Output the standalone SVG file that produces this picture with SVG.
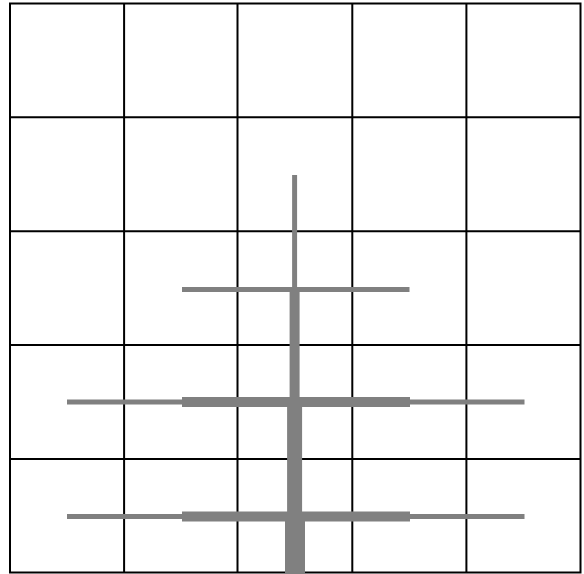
<svg xmlns="http://www.w3.org/2000/svg" width="584" height="574" viewBox="0 0 584 574">
<style>
.g{stroke:#000;stroke-width:2;fill:none}
.t{stroke:#808080;stroke-linecap:butt;fill:none}
</style>
<rect width="584" height="574" fill="#fff"/>
<g id="grid" class="g">
<rect x="10" y="3.5" width="570.5" height="569"/>
<line x1="124.1" y1="3.5" x2="124.1" y2="572.5"/>
<line x1="237.5" y1="3.5" x2="237.5" y2="572.5"/>
<line x1="352.3" y1="3.5" x2="352.3" y2="572.5"/>
<line x1="466.4" y1="3.5" x2="466.4" y2="572.5"/>
<line x1="10" y1="117.3" x2="580.5" y2="117.3"/>
<line x1="10" y1="231.3" x2="580.5" y2="231.3"/>
<line x1="10" y1="345" x2="580.5" y2="345"/>
<line x1="10" y1="459" x2="580.5" y2="459"/>
</g>
<g id="tree" class="t">
<line x1="294.6" y1="175" x2="294.6" y2="289.5" stroke-width="5"/>
<line x1="182" y1="289.5" x2="409.5" y2="289.5" stroke-width="5"/>
<line x1="294.6" y1="289.5" x2="294.6" y2="402" stroke-width="10"/>
<line x1="67" y1="402" x2="524.5" y2="402" stroke-width="5"/>
<line x1="182" y1="402" x2="410" y2="402" stroke-width="10"/>
<line x1="294.6" y1="402" x2="294.6" y2="516.5" stroke-width="15"/>
<line x1="67" y1="516.5" x2="524.5" y2="516.5" stroke-width="5"/>
<line x1="182" y1="516.5" x2="410" y2="516.5" stroke-width="10"/>
<line x1="295" y1="516.5" x2="295" y2="574" stroke-width="20"/>
</g>
</svg>
